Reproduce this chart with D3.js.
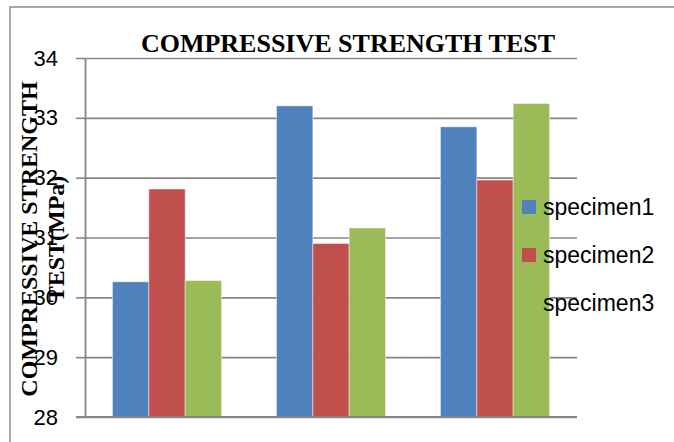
<!DOCTYPE html>
<html><head><meta charset="utf-8">
<script src="https://cdn.jsdelivr.net/npm/d3@7"></script>
<style>body{margin:0;background:#fff;overflow:hidden}</style>
</head><body><svg id="c" width="674" height="442"></svg>
<script>
const categories = ["21", "22", "23"];
const seriesNames = ["specimen1", "specimen2", "specimen3"];
const specimen1 = [30.26, 33.20, 32.85];
const specimen2 = [31.81, 30.90, 31.96];
const specimen3 = [30.28, 31.16, 33.24];
const yTicks = [28, 29, 30, 31, 32, 33, 34];
const colors = ["#4F81BD", "#C0504D", "#9BBB59"];
const titleText = "COMPRESSIVE STRENGTH TEST";
const yTitleLines = ["COMPRESSIVE STRENGTH", "TEST(MPa)"];

const seriesValues = [specimen1, specimen2, specimen3];
const svg = d3.select("#c");
const L = 85, R = 577, T = 58, B = 417;
const gridColor = "#868686";

// chart border
svg.append("path").attr("d", "M10,442V7H674").attr("fill", "none")
  .attr("stroke", "#8c8c8c").attr("stroke-width", 1.5);

const x = d3.scaleBand().domain(categories).range([L, R]).paddingInner(0.335).paddingOuter(0.1675);
const x1 = d3.scaleBand().domain(seriesNames).range([0, x.bandwidth()]);
const y = d3.scaleLinear().domain([28, 34]).range([B, T]);

// gridlines
const grid = svg.append("g").attr("transform", `translate(${L},0)`)
  .call(d3.axisLeft(y).tickValues(yTicks).tickSize(-(R - L)).tickFormat(""));
grid.select(".domain").remove();
grid.selectAll("line").attr("stroke", gridColor).attr("stroke-width", 1.6);

// bars
const rows = [];
categories.forEach((c, i) => seriesNames.forEach((s, j) => rows.push({c, s, j, v: seriesValues[j][i]})));
svg.append("g").selectAll("rect").data(rows).join("rect")
  .attr("x", d => x(d.c) + x1(d.s))
  .attr("y", d => y(d.v))
  .attr("width", x1.bandwidth())
  .attr("height", d => y(28) - y(d.v))
  .attr("fill", d => colors[d.j])
  .attr("stroke", "rgba(255,255,255,0.45)").attr("stroke-width", 1);

// y axis with ticks and labels
const ya = svg.append("g").attr("transform", `translate(${L},0)`)
  .call(d3.axisLeft(y).tickValues(yTicks).tickSize(9).tickSizeOuter(0).tickPadding(18).tickFormat(d3.format("d")));
ya.select(".domain").attr("stroke", gridColor).attr("stroke-width", 1.8);
ya.selectAll("line").attr("stroke", gridColor).attr("stroke-width", 1.6);
ya.selectAll("text").attr("font-family", "'Liberation Sans', Arial, sans-serif")
  .attr("font-size", 22).attr("fill", "#000");

// x axis
const xa = svg.append("g").attr("transform", `translate(0,${B})`)
  .call(d3.axisBottom(x).tickSize(0).tickPadding(24));
xa.select(".domain").remove();
svg.append("line").attr("x1", 76).attr("x2", R).attr("y1", B).attr("y2", B)
  .attr("stroke", gridColor).attr("stroke-width", 2);
xa.selectAll("text").attr("font-family", "'Liberation Sans', Arial, sans-serif")
  .attr("font-size", 22).attr("fill", "#000");

// title
svg.append("text").attr("x", 348).attr("y", 52).attr("text-anchor", "middle")
  .attr("font-family", "'Liberation Serif', 'Times New Roman', serif")
  .attr("font-weight", "bold").attr("font-size", 26).text(titleText);

// y axis title
const yBase = [37, 64];
yTitleLines.forEach((t, i) => {
  svg.append("text").attr("transform", `translate(${yBase[i]},239) rotate(-90)`)
    .attr("text-anchor", "middle")
    .attr("font-family", "'Liberation Serif', 'Times New Roman', serif")
    .attr("font-weight", "bold").attr("font-size", 24).text(t);
});

// legend
const lg = svg.append("g");
seriesNames.forEach((s, j) => {
  const cy = 207 + j * 48;
  lg.append("rect").attr("x", 522).attr("y", cy - 7).attr("width", 14).attr("height", 14).attr("fill", colors[j]);
  lg.append("text").attr("x", 543).attr("y", cy).attr("dominant-baseline", "central")
    .attr("font-family", "'Liberation Sans', Arial, sans-serif").attr("font-size", 23).text(s);
});
</script></body></html>
